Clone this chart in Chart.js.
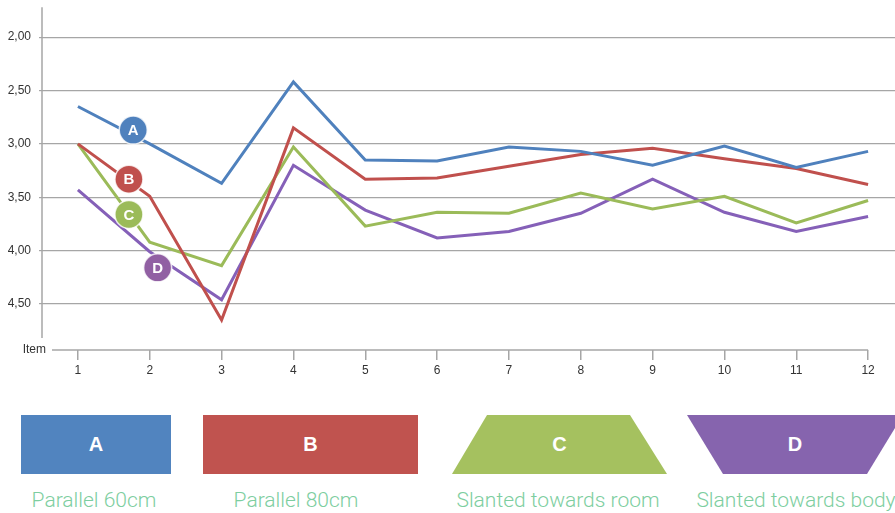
<!DOCTYPE html>
<html>
<head>
<meta charset="utf-8">
<script src="https://cdn.jsdelivr.net/npm/chart.js@4/dist/chart.umd.min.js"></script>
<style>
  html, body { margin: 0; padding: 0; background: #fff; overflow: hidden; width: 895px; height: 513px; }
  #wrap { position: relative; width: 895px; height: 513px; overflow: hidden; }
  #chart { position: absolute; left: 0; top: -8px; }
  .shape { position: absolute; top: 415px; height: 59px; color: #fff;
           font: bold 20px "Liberation Sans", Arial, sans-serif;
           display: flex; align-items: center; justify-content: center; }
  .caption { position: absolute; top: 488px; color: #7dcea0; white-space: nowrap;
             font: 300 21px Roboto, "Liberation Sans", Arial, sans-serif; transform: translateX(-50%); }
</style>
</head>
<body>
<div id="wrap">
  <canvas id="chart" width="910" height="403"></canvas>
  <div class="shape" style="left:21px;width:150px;background:#5184bf;">A</div>
  <div class="shape" style="left:203px;width:215px;background:#c0534f;">B</div>
  <div class="shape" style="left:452px;width:215px;background:#a5c15f;clip-path:polygon(35px 0,178px 0,215px 59px,0 59px);">C</div>
  <div class="shape" style="left:687px;width:216px;background:#8664ae;clip-path:polygon(0 0,216px 0,180px 59px,36px 59px);">D</div>
  <div class="caption" style="left:94px;">Parallel 60cm</div>
  <div class="caption" style="left:296px;">Parallel 80cm</div>
  <div class="caption" style="left:558px;">Slanted towards room</div>
  <div class="caption" style="left:796px;">Slanted towards body</div>
</div>
<script>
// Items on the horizontal axis
const items = ['1', '2', '3', '4', '5', '6', '7', '8', '9', '10', '11', '12'];

// Mean scores per table arrangement
const parallel60 = [2.65, 3.00, 3.37, 2.42, 3.15, 3.16, 3.03, 3.07, 3.20, 3.02, 3.22, 3.07];
const parallel80 = [3.00, 3.49, 4.65, 2.85, 3.33, 3.32, 3.21, 3.10, 3.04, 3.14, 3.23, 3.38];
const slantedRoom = [3.00, 3.92, 4.14, 3.03, 3.77, 3.64, 3.65, 3.46, 3.61, 3.49, 3.74, 3.53];
const slantedBody = [3.43, 4.01, 4.46, 3.20, 3.62, 3.88, 3.82, 3.65, 3.33, 3.64, 3.82, 3.68];

// Value axis tick labels
const yTicks = [2.0, 2.5, 3.0, 3.5, 4.0, 4.5];

const seriesNames = ['A', 'B', 'C', 'D'];
const seriesColors = ['#4f81bd', '#c0504d', '#9bbb59', '#8560b8'];
const badgeColors = ['#4f81bd', '#c0504d', '#9bbb59', '#9160a3'];
// Where each letter badge sits, as [item index, score]
const badgeSpots = [[0.77, 2.87], [0.71, 3.33], [0.71, 3.66], [1.11, 4.16]];

const axisColor = '#a6a6a6';
const labelFont = { family: '"Liberation Sans", Arial, sans-serif', size: 12 };

const axesAndBadges = {
  id: 'axesAndBadges',
  afterDatasetsDraw(chart) {
    const { ctx, chartArea, scales } = chart;
    const xs = scales.x, ys = scales.y;
    ctx.save();
    ctx.strokeStyle = axisColor;
    ctx.lineWidth = 1.5;
    // vertical axis line, stopping short of the item axis
    ctx.beginPath();
    ctx.moveTo(chartArea.left, chartArea.top);
    ctx.lineTo(chartArea.left, chartArea.bottom - 12);
    ctx.stroke();
    // item axis line, from just right of the corner to the last item
    ctx.beginPath();
    ctx.moveTo(chartArea.left + 10, chartArea.bottom);
    ctx.lineTo(xs.getPixelForValue(items.length - 1), chartArea.bottom);
    ctx.stroke();
    // axis title
    ctx.fillStyle = '#333';
    ctx.font = '12px "Liberation Sans", Arial, sans-serif';
    ctx.textAlign = 'right';
    ctx.textBaseline = 'middle';
    ctx.fillText('Item', chartArea.left + 4, chartArea.bottom);
    // letter badges
    badgeSpots.forEach(([ix, v], i) => {
      const px = xs.getPixelForValue(ix);
      const py = ys.getPixelForValue(v);
      ctx.beginPath();
      ctx.arc(px, py, 14, 0, Math.PI * 2);
      ctx.fillStyle = badgeColors[i];
      ctx.fill();
      ctx.lineWidth = 1.5;
      ctx.strokeStyle = 'rgba(255,255,255,0.8)';
      ctx.stroke();
      ctx.fillStyle = '#fff';
      ctx.font = 'bold 15px "Liberation Sans", Arial, sans-serif';
      ctx.textAlign = 'center';
      ctx.textBaseline = 'middle';
      ctx.fillText(seriesNames[i], px, py + 1);
    });
    ctx.restore();
  }
};

const seriesData = [parallel60, parallel80, slantedRoom, slantedBody];

new Chart(document.getElementById('chart'), {
  type: 'line',
  data: {
    labels: items,
    datasets: seriesData.map((d, i) => ({
      label: seriesNames[i],
      data: d,
      borderColor: seriesColors[i],
      borderWidth: 3,
      pointRadius: 0,
      tension: 0,
      fill: false
    }))
  },
  options: {
    responsive: false,
    animation: false,
    devicePixelRatio: 1,
    layout: { padding: { top: 6, right: 6, left: 0, bottom: 0 } },
    plugins: { legend: { display: false }, tooltip: { enabled: false } },
    scales: {
      x: {
        type: 'category',
        offset: true,
        grid: { display: true, drawOnChartArea: false, drawTicks: true, tickLength: 10, color: axisColor, lineWidth: 1.5, offset: false },
        border: { display: false },
        ticks: { color: '#333', font: labelFont, padding: 3, maxRotation: 0, autoSkip: false },
        afterFit(scale) { scale.height = 45; }
      },
      y: {
        reverse: true,
        min: 1.72,
        max: 4.93,
        grid: { color: axisColor, lineWidth: 1.2, drawTicks: true, tickLength: 3 },
        border: { display: false },
        ticks: {
          color: '#333', font: labelFont, padding: 8,
          callback: (v) => v.toFixed(2).replace('.', ',')
        },
        afterBuildTicks(scale) { scale.ticks = yTicks.map(v => ({ value: v })); },
        afterFit(scale) { scale.width = 42; }
      }
    }
  },
  plugins: [axesAndBadges]
});
</script>
</body>
</html>
